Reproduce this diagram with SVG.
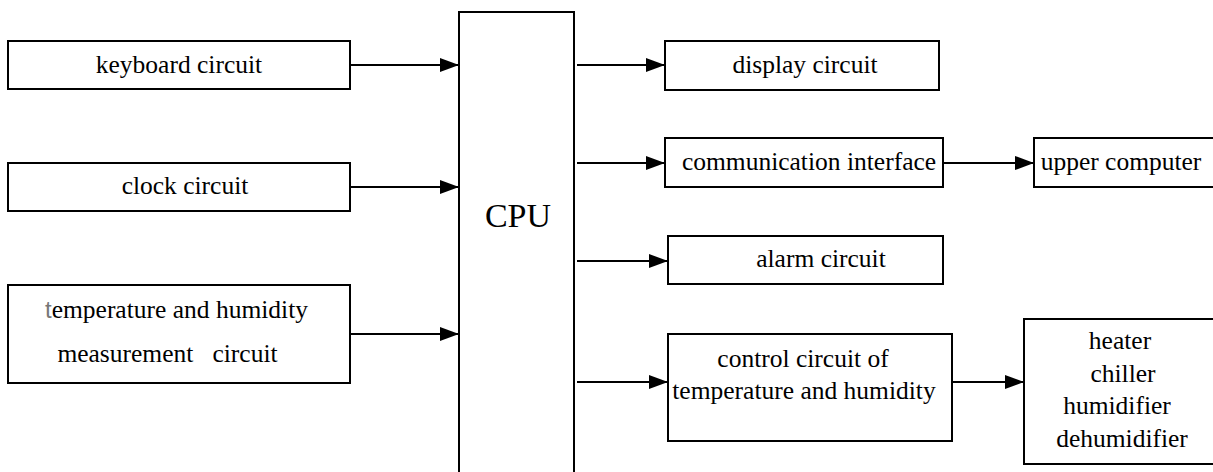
<svg xmlns="http://www.w3.org/2000/svg" width="1213" height="472" viewBox="0 0 1213 472">
<style>
.box{fill:#fff;stroke:#000;stroke-width:2}
.t{font-size:25.5px;fill:#000;text-anchor:middle}
.cpu{font-size:34px}
.ln{stroke:#000;stroke-width:2;fill:none;marker-end:url(#ah)}
</style>
<defs>
<marker id="ah" markerUnits="userSpaceOnUse" markerWidth="20" markerHeight="14" refX="19" refY="7" orient="auto">
<path d="M0,0 L19,7 L0,14 z" fill="#000"/>
</marker>
</defs>
<rect width="1213" height="472" fill="#fff"/>
<g id="connectors">
<line class="ln" x1="350" y1="65" x2="459" y2="65"/>
<line class="ln" x1="350" y1="187" x2="459" y2="187"/>
<line class="ln" x1="350" y1="334" x2="459" y2="334"/>
<line class="ln" x1="577" y1="65" x2="665" y2="65"/>
<line class="ln" x1="577" y1="163" x2="665" y2="163"/>
<line class="ln" x1="577" y1="261" x2="668" y2="261"/>
<line class="ln" x1="577" y1="382" x2="668" y2="382"/>
<line class="ln" x1="943" y1="163" x2="1034" y2="163"/>
<line class="ln" x1="952" y1="382" x2="1024" y2="382"/>
</g>
<g font-family="Liberation Serif, Times New Roman, Times, serif">
<g id="keyboard">
<rect class="box" x="8" y="41" width="342" height="48"/>
<text class="t" x="179" y="73">keyboard circuit</text>
</g>
<g id="clock">
<rect class="box" x="8" y="163" width="342" height="48"/>
<text class="t" x="185" y="194">clock circuit</text>
</g>
<g id="measure">
<rect class="box" x="8" y="285" width="342" height="98"/>
<text class="t" x="176.5" y="318"><tspan fill="#777" font-family="Liberation Sans, Arial, sans-serif" font-size="24px">t</tspan>emperature and humidity</text>
<text class="t" x="167.5" y="362" xml:space="preserve">measurement   circuit</text>
</g>
<g id="cpu">
<rect class="box" x="459" y="12" width="115" height="470"/>
<text class="t cpu" x="518" y="227">CPU</text>
</g>
<g id="display">
<rect class="box" x="665" y="41" width="274" height="49"/>
<text class="t" x="805" y="73">display circuit</text>
</g>
<g id="comm">
<rect class="box" x="665" y="138" width="278" height="49"/>
<text class="t" x="809" y="170">communication interface</text>
</g>
<g id="upper">
<rect class="box" x="1034" y="138" width="182" height="49"/>
<text class="t" x="1121" y="170">upper computer</text>
</g>
<g id="alarm">
<rect class="box" x="668" y="236" width="275" height="48"/>
<text class="t" x="821" y="267">alarm circuit</text>
</g>
<g id="control">
<rect class="box" x="668" y="334" width="284" height="107"/>
<text class="t" x="803" y="367">control circuit of</text>
<text class="t" x="804" y="399">temperature and humidity</text>
</g>
<g id="actuators">
<rect class="box" x="1024" y="319" width="192" height="145"/>
<text class="t" x="1120" y="349">heater</text>
<text class="t" x="1123" y="382">chiller</text>
<text class="t" x="1117" y="414">humidifier</text>
<text class="t" x="1122" y="447">dehumidifier</text>
</g>
</g>
</svg>
